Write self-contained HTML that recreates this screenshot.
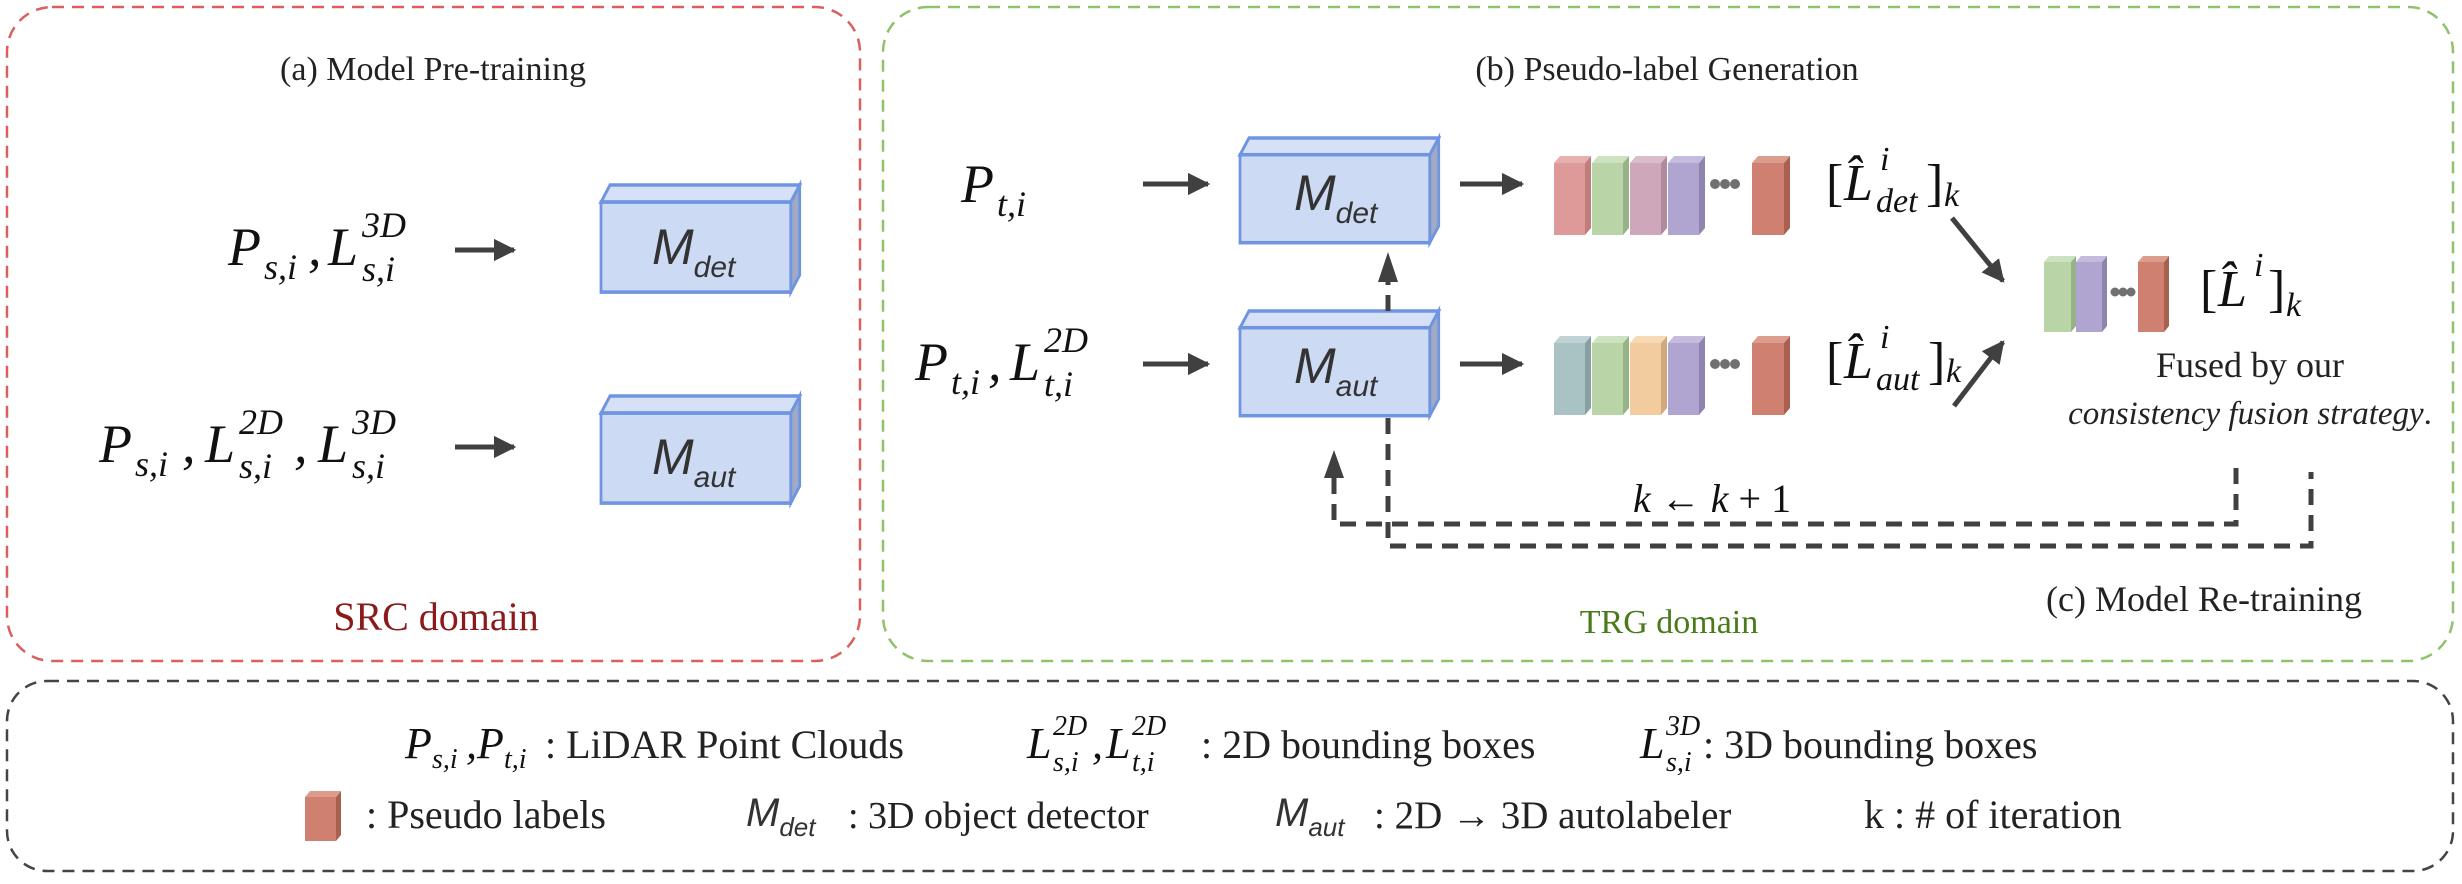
<!DOCTYPE html>
<html><head><meta charset="utf-8"><style>
html,body{margin:0;padding:0;background:#fff;}
svg{display:block;}
.s{font-family:"Liberation Serif",serif;fill:#222;}
.m{font-family:"Liberation Serif",serif;font-style:italic;fill:#111;}
.b{font-family:"Liberation Sans",sans-serif;font-style:italic;fill:#333;}
</style></head><body>
<svg width="2462" height="884" viewBox="0 0 2462 884" xmlns="http://www.w3.org/2000/svg">
<defs>
<marker id="ah" viewBox="0 0 10 10" refX="9" refY="5" markerWidth="4.5" markerHeight="4.5" orient="auto"><path d="M0,0 L10,5 L0,10 z" fill="#404040"/></marker>
<g id="cube">
<polygon points="0,19 13,0 288,0 275,19" fill="#d6e0f6" stroke="#6f95e0" stroke-width="4"/>
<polygon points="275,19 288,0 288,100 275,119" fill="#a0aac4" stroke="#6f95e0" stroke-width="4"/>
<rect x="0" y="19" width="275" height="100" fill="#ccdaf4" stroke="#6f95e0" stroke-width="4"/>
</g>
</defs>
<rect x="7" y="7" width="853" height="654" rx="45" fill="none" stroke="#d9605e" stroke-width="2.5" stroke-dasharray="12,8"/>
<rect x="883" y="7" width="1570" height="654" rx="45" fill="none" stroke="#8fc26a" stroke-width="2.5" stroke-dasharray="12,8"/>
<rect x="7" y="681" width="2446" height="190" rx="40" fill="none" stroke="#444" stroke-width="2.5" stroke-dasharray="12,8"/>

<!-- (a) -->
<text class="s" x="433" y="80" font-size="34" text-anchor="middle">(a) Model Pre-training</text>
<g class="m">
<text x="228" y="265" font-size="54">P</text><text x="264" y="279" font-size="36">s,i</text><text x="308" y="265" font-size="54">,</text>
<text x="328" y="265" font-size="54">L</text><text x="362" y="237" font-size="36">3D</text><text x="362" y="281" font-size="36">s,i</text>
<text x="99" y="462" font-size="54">P</text><text x="135" y="476" font-size="36">s,i</text><text x="182" y="462" font-size="54">,</text>
<text x="205" y="462" font-size="54">L</text><text x="239" y="434" font-size="36">2D</text><text x="239" y="478" font-size="36">s,i</text><text x="294" y="462" font-size="54">,</text>
<text x="318" y="462" font-size="54">L</text><text x="352" y="434" font-size="36">3D</text><text x="352" y="478" font-size="36">s,i</text>
</g>
<line x1="455" y1="250" x2="514" y2="250" stroke="#404040" stroke-width="5" marker-end="url(#ah)"/>
<g transform="translate(601,185) scale(0.69,0.9)"><use href="#cube"/></g>
<text class="b" x="652" y="264" font-size="50">M<tspan font-size="30" dy="13">det</tspan></text>
<line x1="455" y1="447" x2="514" y2="447" stroke="#404040" stroke-width="5" marker-end="url(#ah)"/>
<g transform="translate(601,396) scale(0.69,0.9)"><use href="#cube"/></g>
<text class="b" x="652" y="474" font-size="50">M<tspan font-size="30" dy="13">aut</tspan></text>
<text class="s" x="436" y="630" font-size="40" text-anchor="middle" style="fill:#8b1a1a">SRC domain</text>

<!-- (b) -->
<text class="s" x="1667" y="80" font-size="34" text-anchor="middle">(b) Pseudo-label Generation</text>
<g class="m">
<text x="961" y="202" font-size="54">P</text><text x="997" y="216" font-size="36">t,i</text>
<text x="915" y="380" font-size="54">P</text><text x="951" y="394" font-size="36">t,i</text><text x="988" y="380" font-size="54">,</text>
<text x="1010" y="380" font-size="54">L</text><text x="1044" y="352" font-size="36">2D</text><text x="1044" y="396" font-size="36">t,i</text>
</g>
<line x1="1143" y1="184" x2="1208" y2="184" stroke="#404040" stroke-width="5" marker-end="url(#ah)"/>
<g transform="translate(1240,138) scale(0.69,0.88)"><use href="#cube"/></g>
<text class="b" x="1294" y="210" font-size="50">M<tspan font-size="30" dy="13">det</tspan></text>
<line x1="1143" y1="364" x2="1208" y2="364" stroke="#404040" stroke-width="5" marker-end="url(#ah)"/>
<g transform="translate(1240,311) scale(0.69,0.88)"><use href="#cube"/></g>
<text class="b" x="1294" y="383" font-size="50">M<tspan font-size="30" dy="13">aut</tspan></text>
<line x1="1460" y1="184" x2="1522" y2="184" stroke="#404040" stroke-width="5" marker-end="url(#ah)"/>
<line x1="1460" y1="364" x2="1522" y2="364" stroke="#404040" stroke-width="5" marker-end="url(#ah)"/>

<g>
<rect x="1554" y="163" width="31" height="72" fill="#dd9a98"/><polygon points="1585,163 1591,156 1591,228 1585,235" fill="#bf7e7c"/><polygon points="1554,163 1560,156 1591,156 1585,163" fill="#e6b0ae"/>
<rect x="1592" y="163" width="31" height="72" fill="#b9d5a8"/><polygon points="1623,163 1629,156 1629,228 1623,235" fill="#97b286"/><polygon points="1592,163 1598,156 1629,156 1623,163" fill="#cde2c0"/>
<rect x="1630" y="163" width="31" height="72" fill="#cfa7bb"/><polygon points="1661,163 1667,156 1667,228 1661,235" fill="#b08a9e"/><polygon points="1630,163 1636,156 1667,156 1661,163" fill="#dbbccb"/>
<rect x="1668" y="163" width="31" height="72" fill="#b0a5d1"/><polygon points="1699,163 1705,156 1705,228 1699,235" fill="#8e84ad"/><polygon points="1668,163 1674,156 1705,156 1699,163" fill="#c4bbde"/>
<circle cx="1715" cy="184" r="5" fill="#707070"/><circle cx="1725" cy="184" r="5" fill="#707070"/><circle cx="1735" cy="184" r="5" fill="#707070"/>
<rect x="1752" y="163" width="32" height="72" fill="#d08070"/><polygon points="1784,163 1790,156 1790,228 1784,235" fill="#a8604f"/><polygon points="1752,163 1758,156 1790,156 1784,163" fill="#dc9c8e"/>
</g>
<g transform="translate(0,180)">
<rect x="1554" y="163" width="31" height="72" fill="#a9c2c4"/><polygon points="1585,163 1591,156 1591,228 1585,235" fill="#88a0a2"/><polygon points="1554,163 1560,156 1591,156 1585,163" fill="#bfd3d5"/>
<rect x="1592" y="163" width="31" height="72" fill="#b9d5a8"/><polygon points="1623,163 1629,156 1629,228 1623,235" fill="#97b286"/><polygon points="1592,163 1598,156 1629,156 1623,163" fill="#cde2c0"/>
<rect x="1630" y="163" width="31" height="72" fill="#f2cc9e"/><polygon points="1661,163 1667,156 1667,228 1661,235" fill="#d0aa7e"/><polygon points="1630,163 1636,156 1667,156 1661,163" fill="#f6dab6"/>
<rect x="1668" y="163" width="31" height="72" fill="#b0a5d1"/><polygon points="1699,163 1705,156 1705,228 1699,235" fill="#8e84ad"/><polygon points="1668,163 1674,156 1705,156 1699,163" fill="#c4bbde"/>
<circle cx="1715" cy="184" r="5" fill="#707070"/><circle cx="1725" cy="184" r="5" fill="#707070"/><circle cx="1735" cy="184" r="5" fill="#707070"/>
<rect x="1752" y="163" width="32" height="72" fill="#d08070"/><polygon points="1784,163 1790,156 1790,228 1784,235" fill="#a8604f"/><polygon points="1752,163 1758,156 1790,156 1784,163" fill="#dc9c8e"/>
</g>
<g class="m">
<text x="1826" y="200" font-size="52" font-style="normal">[</text><text x="1844" y="200" font-size="52">L̂</text><text x="1880" y="170" font-size="34">i</text><text x="1876" y="212" font-size="34">det</text><text x="1926" y="200" font-size="52" font-style="normal">]</text><text x="1944" y="206" font-size="34">k</text>
<text x="1826" y="378" font-size="52" font-style="normal">[</text><text x="1844" y="378" font-size="52">L̂</text><text x="1880" y="348" font-size="34">i</text><text x="1876" y="390" font-size="34">aut</text><text x="1928" y="378" font-size="52" font-style="normal">]</text><text x="1946" y="382" font-size="34">k</text>
<text x="2200" y="306" font-size="52" font-style="normal">[</text><text x="2218" y="306" font-size="52">L̂</text><text x="2254" y="276" font-size="34">i</text><text x="2268" y="306" font-size="52" font-style="normal">]</text><text x="2286" y="316" font-size="34">k</text>
</g>
<line x1="1952" y1="218" x2="2003" y2="281" stroke="#404040" stroke-width="5" marker-end="url(#ah)"/>
<line x1="1954" y1="406" x2="2003" y2="342" stroke="#404040" stroke-width="5" marker-end="url(#ah)"/>
<g>
<rect x="2044" y="262" width="27" height="70" fill="#b9d5a8"/><polygon points="2071,262 2076,256 2076,326 2071,332" fill="#97b286"/><polygon points="2044,262 2049,256 2076,256 2071,262" fill="#cde2c0"/>
<rect x="2076" y="262" width="26" height="70" fill="#b0a5d1"/><polygon points="2102,262 2107,256 2107,326 2102,332" fill="#8e84ad"/><polygon points="2076,262 2081,256 2107,256 2102,262" fill="#c4bbde"/>
<circle cx="2115" cy="292" r="4.5" fill="#707070"/><circle cx="2123" cy="292" r="4.5" fill="#707070"/><circle cx="2131" cy="292" r="4.5" fill="#707070"/>
<rect x="2138" y="262" width="26" height="70" fill="#d08070"/><polygon points="2164,262 2169,256 2169,326 2164,332" fill="#a8604f"/><polygon points="2138,262 2143,256 2169,256 2164,262" fill="#dc9c8e"/>
</g>
<text class="s" x="2250" y="377" font-size="36" text-anchor="middle">Fused by our</text>
<text class="s" x="2250" y="424" font-size="33" text-anchor="middle"><tspan font-style="italic">consistency fusion strategy</tspan>.</text>

<g stroke="#404040" stroke-width="5" fill="none" stroke-dasharray="16,10">
<line x1="1388" y1="311" x2="1388" y2="270"/>
<polyline points="1388,418 1388,546 2311,546 2311,472"/>
<polyline points="2236,468 2236,524 1334,524 1334,478"/>
</g>
<polygon points="1378,282 1388,252 1398,282" fill="#404040"/>
<polygon points="1324,478 1334,450 1344,478" fill="#404040"/>
<text class="m" x="1633" y="512" font-size="40">k <tspan font-style="normal">←</tspan> k <tspan font-style="normal">+ 1</tspan></text>
<text class="s" x="2204" y="611" font-size="36" text-anchor="middle">(c) Model Re-training</text>
<text class="s" x="1669" y="633" font-size="34" text-anchor="middle" style="fill:#4a7a1a">TRG domain</text>

<!-- legend -->
<g class="m">
<text x="405" y="758" font-size="44">P</text><text x="432" y="768" font-size="28">s,i</text><text x="466" y="758" font-size="44">,</text>
<text x="477" y="758" font-size="44">P</text><text x="504" y="768" font-size="28">t,i</text>
<text x="1027" y="758" font-size="44">L</text><text x="1053" y="735" font-size="28">2D</text><text x="1053" y="771" font-size="28">s,i</text><text x="1092" y="758" font-size="44">,</text>
<text x="1106" y="758" font-size="44">L</text><text x="1132" y="735" font-size="28">2D</text><text x="1132" y="771" font-size="28">t,i</text>
<text x="1640" y="758" font-size="44">L</text><text x="1666" y="735" font-size="28">3D</text><text x="1666" y="771" font-size="28">s,i</text>
</g>
<text class="s" x="545" y="758" font-size="40">: LiDAR Point Clouds</text>
<text class="s" x="1201" y="758" font-size="40">: 2D bounding boxes</text>
<text class="s" x="1703" y="758" font-size="40">: 3D bounding boxes</text>
<rect x="305" y="797" width="31" height="44" fill="#d08070"/><polygon points="336,797 341,791 341,835 336,841" fill="#a8604f"/><polygon points="305,797 310,791 341,791 336,797" fill="#dc9c8e"/>
<text class="s" x="366" y="828" font-size="40">: Pseudo labels</text>
<text class="b" x="746" y="826" font-size="40">M<tspan font-size="26" dy="10">det</tspan></text>
<text class="s" x="848" y="828" font-size="38">: 3D object detector</text>
<text class="b" x="1275" y="826" font-size="40">M<tspan font-size="26" dy="10">aut</tspan></text>
<text class="s" x="1374" y="828" font-size="39">: 2D → 3D autolabeler</text>
<text class="s" x="1864" y="828" font-size="40">k : # of iteration</text>
</svg>
</body></html>
